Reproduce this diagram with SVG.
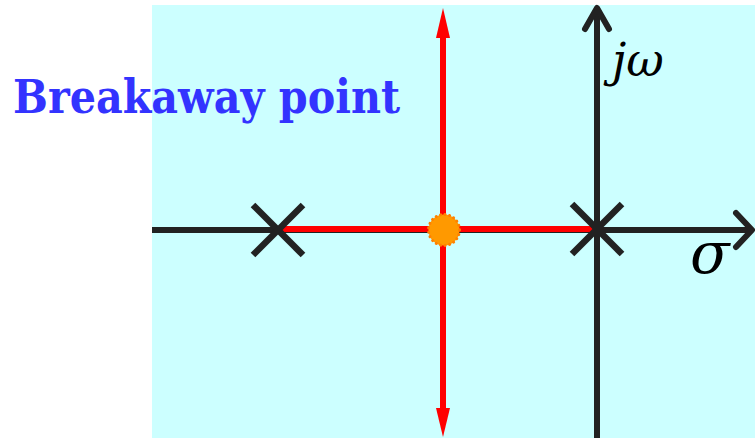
<svg xmlns="http://www.w3.org/2000/svg" width="755" height="438" viewBox="0 0 755 438">
<style>
.ax{stroke:#222;stroke-width:6;fill:none}
.rl{stroke:#f00;stroke-width:6;fill:none}
.pole{stroke:#222;stroke-width:6.5}
.serif{font-family:"DejaVu Serif","Liberation Serif",serif}
.math{font-style:italic;fill:#000}
</style>
<rect x="0" y="0" width="755" height="438" fill="#fff"/>
<rect x="152" y="5" width="603" height="433" fill="#ccffff"/>
<g id="connectors">
<line class="ax" x1="152" y1="230" x2="752" y2="230"/>
<polyline class="ax" points="736,213 752,230 736,247" stroke-linecap="round" stroke-linejoin="round"/>
<line class="ax" x1="597" y1="8" x2="597" y2="438"/>
<polyline class="ax" points="585,29 597,8 609,29" stroke-linecap="round" stroke-linejoin="round"/>
<line class="rl" x1="280" y1="229" x2="597" y2="229"/>
<line class="rl" x1="443" y1="34" x2="443" y2="412"/>
<polygon points="443,8 436,38 450,38" fill="#f00"/>
<polygon points="443,437 436,408 450,408" fill="#f00"/>
</g>
<g id="pole1"><line class="pole" x1="253" y1="205" x2="303" y2="255"/><line class="pole" x1="303" y1="205" x2="253" y2="255"/></g>
<g id="pole2"><line class="pole" x1="572" y1="204" x2="622" y2="254"/><line class="pole" x1="622" y1="204" x2="572" y2="254"/></g>
<g id="breakaway"><circle cx="444" cy="230" r="15.5" fill="#ff9900" stroke="#ff8000" stroke-width="3" stroke-dasharray="0.1 4.5" stroke-linecap="round"/></g>
<g id="label"><text class="serif" x="13" y="113" font-weight="bold" font-size="47" fill="#3333ff" textLength="387" lengthAdjust="spacingAndGlyphs">Breakaway point</text></g>
<g id="jw"><text class="serif math" x="612" y="76" font-size="46">jω</text></g>
<g id="sigma"><text class="serif math" x="690" y="273" font-size="58">σ</text></g>
</svg>
